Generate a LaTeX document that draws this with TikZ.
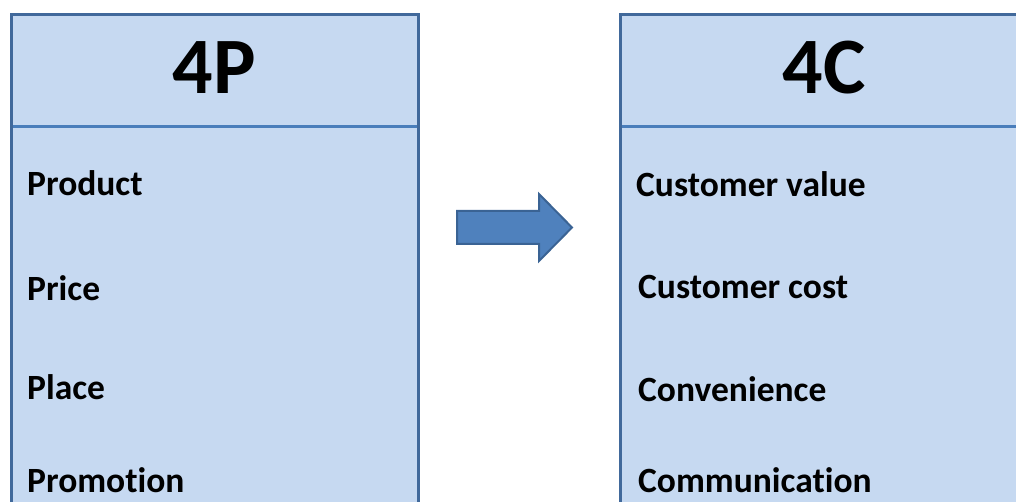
\documentclass[tikz,border=0pt]{standalone}
\usepackage{fontspec}
\setmainfont{Carlito}[Ligatures=NoCommon]
\usepackage{tikz}
\usetikzlibrary{positioning}

\definecolor{panelfill}{HTML}{C6D9F1}
\definecolor{panelline}{HTML}{41699B}
\definecolor{headline}{HTML}{4A7EBB}
\definecolor{arrowfill}{HTML}{4F81BD}
\definecolor{arrowline}{HTML}{3A6394}

\tikzset{
    panel/.style={draw=panelline, line width=3pt, fill=panelfill},
    divider/.style={draw=headline, line width=3pt},
    title/.style={anchor=base, inner sep=0pt, font=\fontsize{80}{96}\selectfont\bfseries},
    item/.style={anchor=base west, inner sep=0pt, font=\fontsize{35.5}{42}\selectfont\bfseries},
}

\begin{document}
\begin{tikzpicture}[x=1pt, y=-1pt]
    \useasboundingbox (0, 0) rectangle (1016, 502);
    \clip (0, 0) rectangle (1016, 502);

    % 4P panel
    \draw[panel] (11, 15) rectangle (418, 540);
    \draw[divider] (12.5, 127) -- (416.5, 127);
    \node[title] (p) at (214.5, 94) {4P};
    \node[item] (product) at (27, 196) {Product};
    \node[item] (price) at (27, 301) {Price};
    \node[item] (place) at (27, 399) {Place};
    \node[item] (promotion) at (27, 492) {Promotion};

    % 4C panel
    \draw[panel] (620, 15) rectangle (1030, 540);
    \draw[divider] (621.5, 127) -- (1030, 127);
    \node[title] (c) at (824, 94) {4C};
    \node[item] (value) at (636, 196.5) {Customer value};
    \node[item] (cost) at (638, 298.5) {Customer cost};
    \node[item] (convenience) at (638, 401.5) {Convenience};
    \node[item] (communication) at (638, 492) {Communication};

    % block arrow between the panels
    \draw[draw=arrowline, line width=2pt, fill=arrowfill, line join=miter]
        (457, 211) -- (539, 211) -- (539, 194) -- (572, 227.5)
        -- (539, 261) -- (539, 244) -- (457, 244) -- cycle;
\end{tikzpicture}
\end{document}
